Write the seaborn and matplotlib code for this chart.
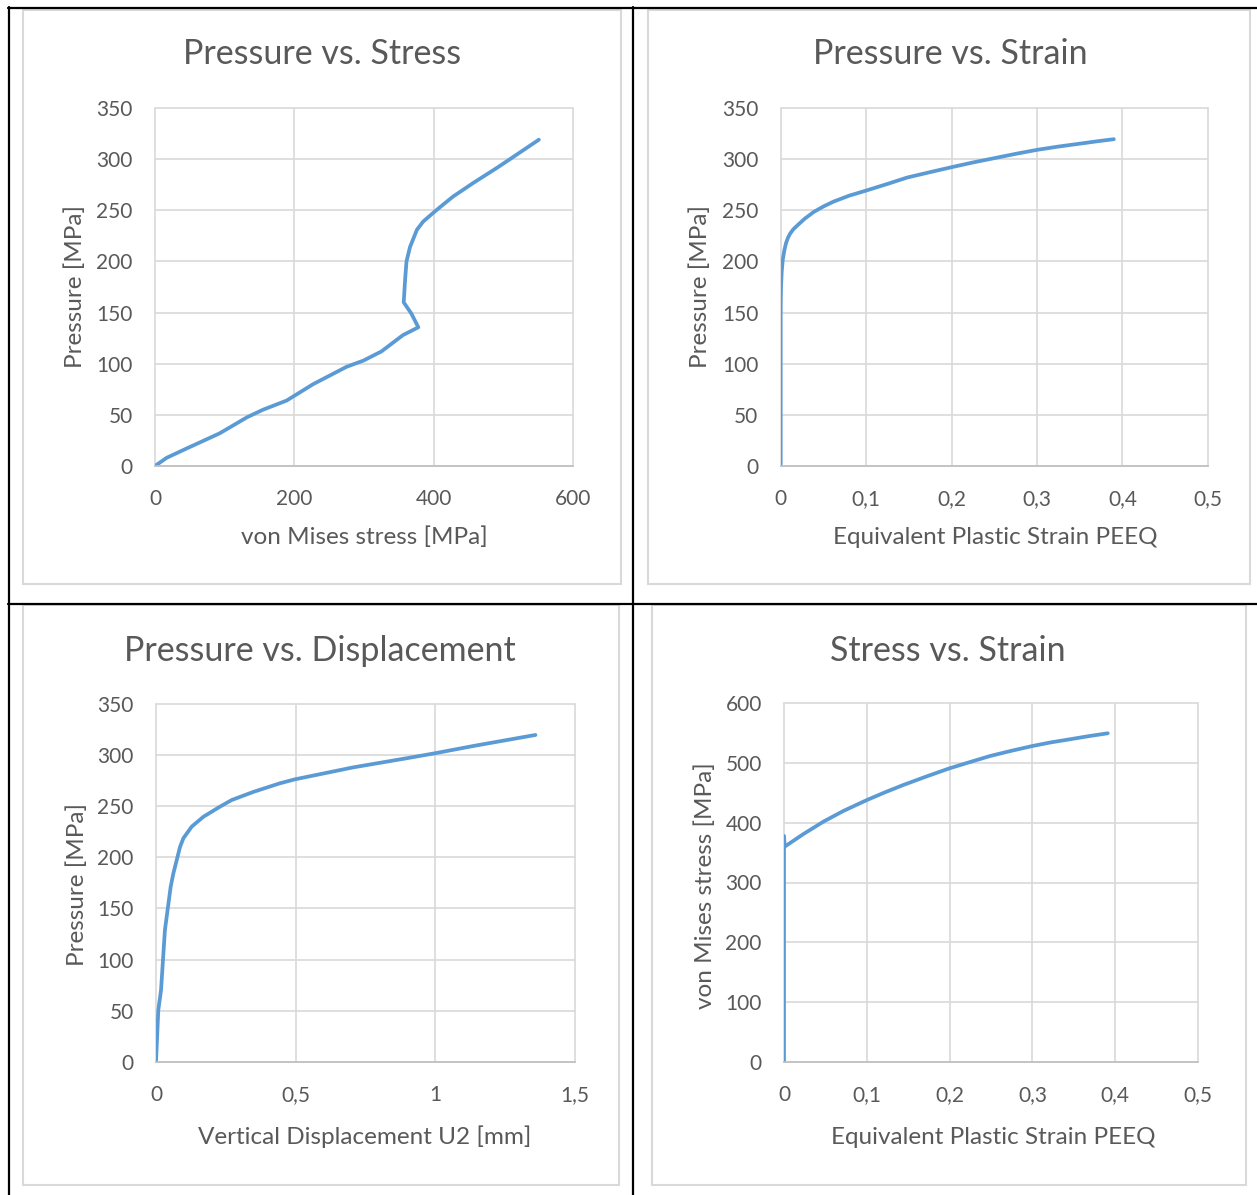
import matplotlib
matplotlib.use("Agg")
import matplotlib.pyplot as plt
import seaborn as sns
import pandas as pd
from matplotlib.lines import Line2D
from matplotlib.patches import Rectangle

# ---- Pressure vs. Stress ----
stress_a = [0, 16.7, 45, 93, 132, 155, 189, 227, 275, 299, 325, 356, 378,
            368, 357, 359, 361, 366, 376, 385, 396, 409, 428, 457, 492, 551]
pressure_a = [0, 8, 17, 32, 47.6, 55, 64, 80, 97, 103, 112, 128, 135.6,
              149, 160, 182, 200, 214, 231, 239, 245.5, 253, 263.5, 276.8, 292, 319]

# ---- Pressure vs. Strain ----
strain_b = [0, 0, 0.0001, 0.0004, 0.0012, 0.0024, 0.0042, 0.0062, 0.0085, 0.011,
            0.0145, 0.0188, 0.028, 0.0384, 0.05, 0.062, 0.08, 0.1, 0.125, 0.148,
            0.175, 0.2, 0.225, 0.25, 0.275, 0.3, 0.325, 0.348, 0.37, 0.39]
pressure_b = [0, 149.5, 162, 175.4, 190, 201.5, 210.5, 217.7, 223, 227,
              231, 234.5, 241.5, 248, 253.5, 258.3, 264, 269, 275.5, 281.7,
              287, 291.8, 296.4, 300.6, 304.8, 308.7, 311.9, 314.5, 317, 319.1]

# ---- Pressure vs. Displacement ----
disp_c = [0, 0.0083, 0.018, 0.032, 0.0526, 0.062, 0.086, 0.098, 0.128, 0.170,
          0.229, 0.271, 0.349, 0.444, 0.498, 0.707, 0.898, 1.0, 1.137, 1.36]
pressure_c = [0, 50.6, 70, 128.9, 171.2, 184, 210, 218.6, 230, 239.7,
              249.5, 256, 264, 272.4, 276.3, 288, 296.9, 301.8, 308.9, 319.7]

# ---- Stress vs. Strain ----
strain_d = [0, 0, 0.0008, 0.0233, 0.0475, 0.0716, 0.1, 0.122, 0.144, 0.172,
            0.2, 0.225, 0.249, 0.275, 0.3, 0.322, 0.345, 0.368, 0.391]
stress_d = [0, 378, 360, 381, 401.8, 419.7, 438, 451, 463.2, 477.5,
            491.2, 501.8, 511.8, 520.6, 528.5, 534.5, 539.7, 545, 549.8]

# ---- tick values and labels ----
ticks_stress_x = [0, 200, 400, 600]
labels_stress_x = ["0", "200", "400", "600"]
ticks_pressure = [0, 50, 100, 150, 200, 250, 300, 350]
labels_pressure = ["0", "50", "100", "150", "200", "250", "300", "350"]
ticks_strain = [0, 0.1, 0.2, 0.3, 0.4, 0.5]
labels_strain = ["0", "0,1", "0,2", "0,3", "0,4", "0,5"]
ticks_disp = [0, 0.5, 1.0, 1.5]
labels_disp = ["0", "0,5", "1", "1,5"]
ticks_stress_y = [0, 100, 200, 300, 400, 500, 600]
labels_stress_y = ["0", "100", "200", "300", "400", "500", "600"]

titles = ["Pressure vs. Stress", "Pressure vs. Strain",
          "Pressure vs. Displacement", "Stress vs. Strain"]
xlabels = ["von Mises stress [MPa]", "Equivalent Plastic Strain PEEQ",
           "Vertical Displacement U2 [mm]", "Equivalent Plastic Strain PEEQ"]
ylabels = ["Pressure [MPa]", "Pressure [MPa]", "Pressure [MPa]",
           "von Mises stress [MPa]"]

W, H = 1257, 1195
LINE = "#5B9BD5"
TEXT = "#595959"
GRID = "#D9D9D9"

sns.set_theme(style="white")
plt.rcParams["font.family"] = ["Lato", "DejaVu Sans"]

fig = plt.figure(figsize=(W / 100, H / 100), dpi=100)
fig.patch.set_facecolor("white")


def fx(x):
    return x / W


def fy(y):
    return 1 - y / H


panels = [
    dict(df=pd.DataFrame({"x": stress_a, "y": pressure_a}),
         xlim=(0, 600), ylim=(0, 350),
         xt=(ticks_stress_x, labels_stress_x), yt=(ticks_pressure, labels_pressure),
         box=(155, 108, 573, 466), frame=(23, 9.5, 621, 584),
         title_xy=(322, 64), xl_xy=(364, 543.6), yl_xy=(81.6, 287)),
    dict(df=pd.DataFrame({"x": strain_b, "y": pressure_b}),
         xlim=(0, 0.5), ylim=(0, 350),
         xt=(ticks_strain, labels_strain), yt=(ticks_pressure, labels_pressure),
         box=(780.7, 107.5, 1207.8, 466.5), frame=(647.5, 9.5, 1250, 584),
         title_xy=(950, 64), xl_xy=(995, 543.6), yl_xy=(707, 287)),
    dict(df=pd.DataFrame({"x": disp_c, "y": pressure_c}),
         xlim=(0, 1.5), ylim=(0, 350),
         xt=(ticks_disp, labels_disp), yt=(ticks_pressure, labels_pressure),
         box=(156, 704, 574.5, 1061.7), frame=(23, 605, 619, 1185),
         title_xy=(320, 661), xl_xy=(365, 1144.5), yl_xy=(83.7, 885)),
    dict(df=pd.DataFrame({"x": strain_d, "y": stress_d}),
         xlim=(0, 0.5), ylim=(0, 600),
         xt=(ticks_strain, labels_strain), yt=(ticks_stress_y, labels_stress_y),
         box=(784, 703.3, 1198, 1061.7), frame=(651.5, 605, 1245.5, 1185),
         title_xy=(947.6, 661), xl_xy=(993, 1144.5), yl_xy=(712, 885.5)),
]

for i, p in enumerate(panels):
    # light chart frame
    fx0, fy0, fx1, fy1 = p["frame"]
    fig.patches.append(Rectangle((fx(fx0), fy(fy1)), (fx1 - fx0) / W, (fy1 - fy0) / H,
                                 transform=fig.transFigure, fill=False,
                                 edgecolor=GRID, lw=1.5, zorder=0))

    x0, y0, x1, y1 = p["box"]
    ax = fig.add_axes([fx(x0), fy(y1), (x1 - x0) / W, (y1 - y0) / H])
    ax.set_facecolor("white")
    ax.set_axisbelow(True)
    sns.lineplot(data=p["df"], x="x", y="y", sort=False, estimator=None,
                 ax=ax, color=LINE, lw=2.7, solid_capstyle="round",
                 solid_joinstyle="round")
    ax.set_xlim(*p["xlim"])
    ax.set_ylim(*p["ylim"])
    ax.set_xticks(p["xt"][0])
    ax.set_xticklabels(p["xt"][1])
    ax.set_yticks(p["yt"][0])
    ax.set_yticklabels(p["yt"][1])
    ax.set_xlabel("")
    ax.set_ylabel("")
    ax.grid(True, color=GRID, lw=1.2)
    for gl in ax.get_xgridlines() + ax.get_ygridlines():
        gl.set_clip_on(False)
    for side in ("top", "right", "left"):
        ax.spines[side].set_visible(False)
    ax.spines["bottom"].set_color("#BFBFBF")
    ax.spines["bottom"].set_linewidth(1.2)
    ax.tick_params(axis="both", length=0, labelsize=15, labelcolor=TEXT)
    ax.tick_params(axis="y", pad=16)
    ax.tick_params(axis="x", pad=16.5)

    tx, ty = p["title_xy"]
    fig.text(fx(tx), fy(ty), titles[i], ha="center", va="baseline",
             fontsize=24.5, color=TEXT)
    lx, ly = p["xl_xy"]
    fig.text(fx(lx), fy(ly), xlabels[i], ha="center", va="baseline",
             fontsize=17.5, color=TEXT)
    yx, yy = p["yl_xy"]
    fig.text(fx(yx), fy(yy), ylabels[i], ha="center", va="baseline",
             rotation=90, rotation_mode="anchor", fontsize=17.5, color=TEXT)

# table rules around the four charts
rules = [
    ((8, 1257), (7.8, 7.8)),
    ((8, 1257), (603.5, 603.5)),
    ((8.7, 8.7), (7, 1195)),
    ((633, 633), (7, 1195)),
]
for xs, ys in rules:
    fig.add_artist(Line2D([fx(v) for v in xs], [fy(v) for v in ys],
                          transform=fig.transFigure, color="black", lw=1.6))

fig.savefig("out.png", dpi=100, facecolor="white")
